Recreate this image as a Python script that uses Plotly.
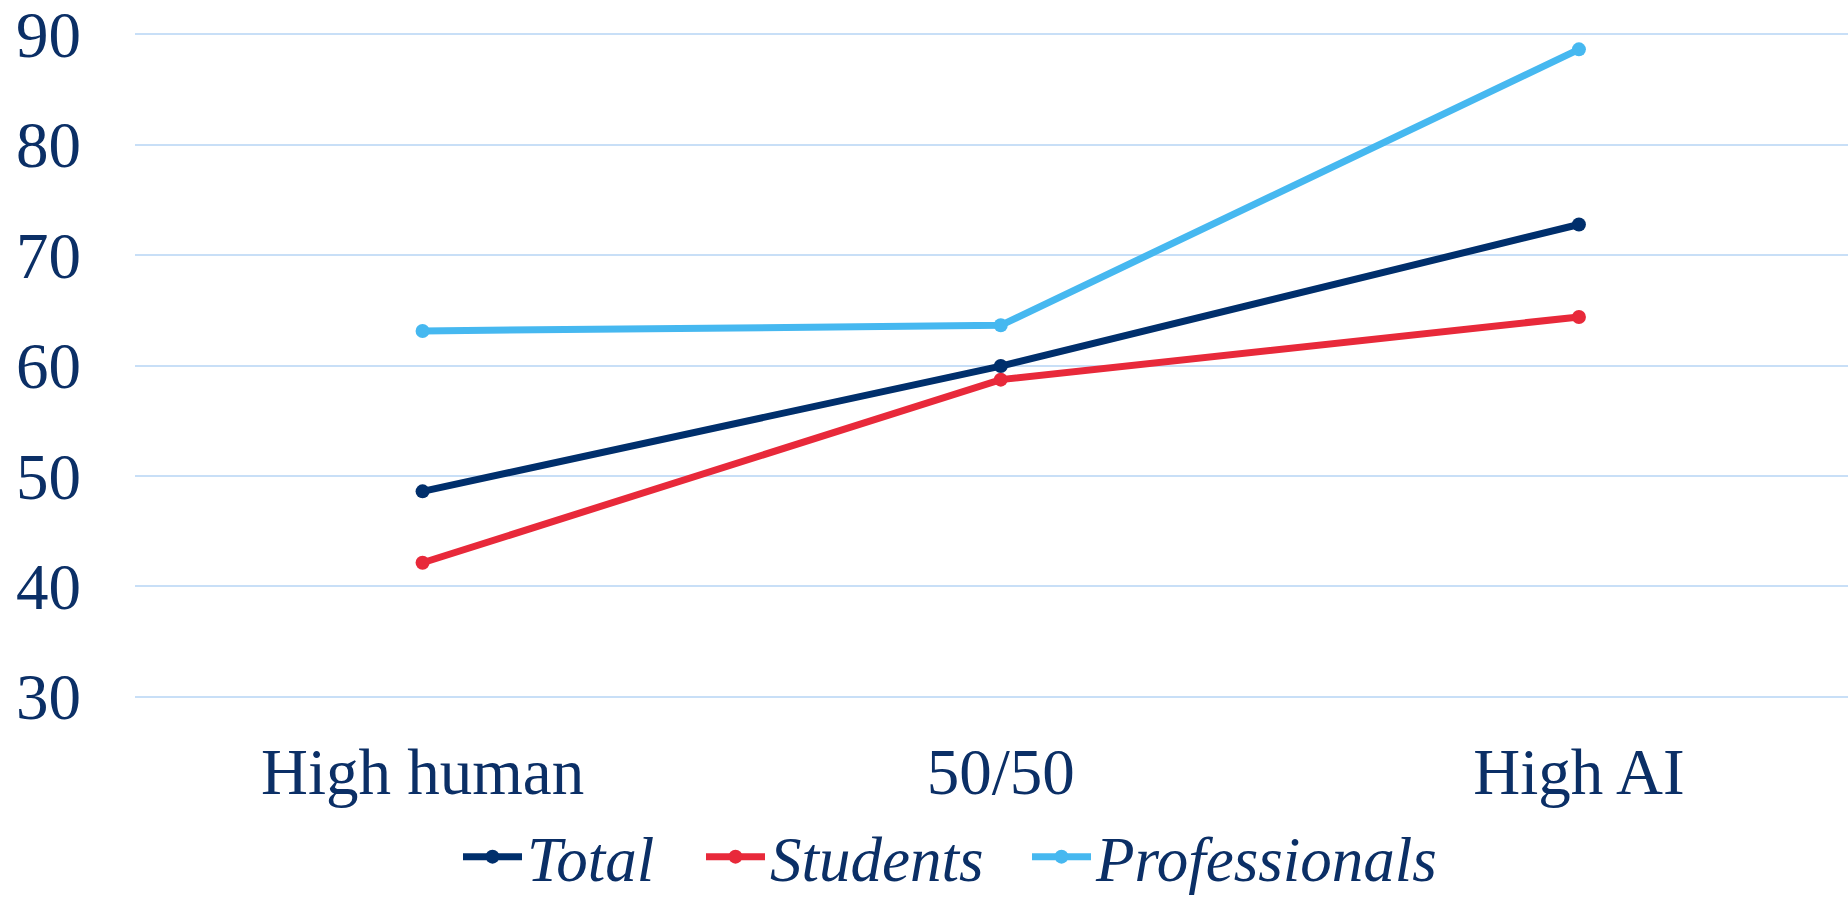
import plotly.graph_objects as go

categories = ["High human", "50/50", "High AI"]
total = [48.6, 59.95, 72.77]
students = [42.13, 58.72, 64.4]
professionals = [63.13, 63.64, 88.64]
y_ticks = [30, 40, 50, 60, 70, 80, 90]

NAVY = "#002f6c"
RED = "#e8293a"
LBLUE = "#46b8f0"
TEXT = "#0b2f66"
FONT = "Liberation Serif"
W, H = 1848, 898

series = [("Total", total, NAVY, "legend", 458),
          ("Students", students, RED, "legend2", 701),
          ("Professionals", professionals, LBLUE, "legend3", 1027)]

fig = go.Figure()
for name, vals, col, lg, _ in series:
    fig.add_trace(go.Scatter(
        x=categories, y=vals, name=name, mode="lines+markers", legend=lg,
        line=dict(color=col, width=7), marker=dict(color=col, size=14),
    ))

legend_common = dict(orientation="h", xref="container", yref="container",
                     y=0.046, yanchor="middle", xanchor="left",
                     font=dict(family=FONT, size=63, color=TEXT, style="italic"),
                     itemwidth=59, borderwidth=0, bgcolor="rgba(0,0,0,0)")
layout_legends = {}
for name, vals, col, lg, xpx in series:
    layout_legends[lg] = dict(legend_common, x=xpx / W)

fig.update_layout(
    width=W, height=H,
    margin=dict(l=135, r=0, t=31, b=198, autoexpand=False),
    plot_bgcolor="white", paper_bgcolor="white",
    font=dict(family=FONT, color=TEXT, size=65),
    showlegend=True,
    **layout_legends,
)
fig.update_xaxes(type="category", range=[-0.4974, 2.4654], showgrid=False, zeroline=False,
                 showline=False, ticks="", ticklabelstandoff=28, automargin=False,
                 ticklabeloverflow="allow",
                 tickfont=dict(family=FONT, size=65, color=TEXT))
fig.update_yaxes(range=[29.7, 90.3], tickvals=y_ticks, showgrid=True,
                 gridcolor="#c8dff7", gridwidth=2, zeroline=False, showline=False,
                 ticks="", ticklabelstandoff=53, automargin=False,
                 ticklabeloverflow="allow",
                 tickfont=dict(family=FONT, size=65, color=TEXT))

fig.write_html("out.html")
